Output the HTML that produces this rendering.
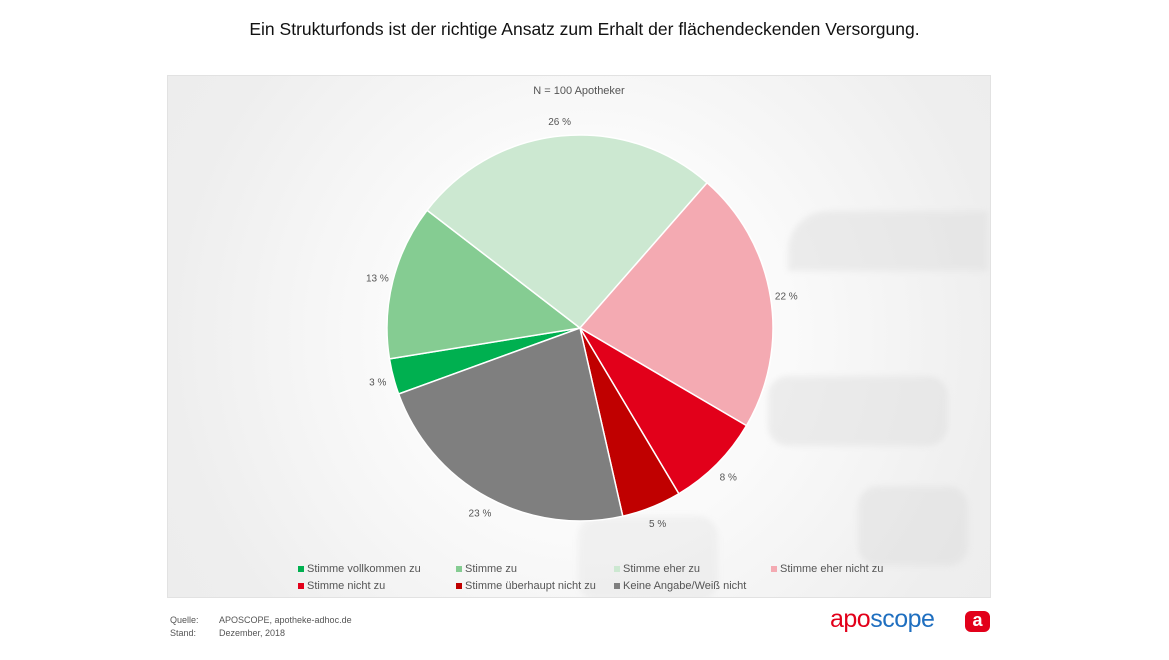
<!DOCTYPE html>
<html><head><meta charset="utf-8"><style>
body{margin:0;width:1169px;height:660px;background:#fff;font-family:"Liberation Sans",sans-serif;overflow:hidden;position:relative}
.t{position:absolute;left:0;width:1169px;top:19px;text-align:center;font-size:17.5px;color:#111}
.panel{position:absolute;left:167px;top:75px;width:824px;height:523px;border:1px solid #e2e2e2;box-sizing:border-box;background:radial-gradient(circle at 420px 260px,#fff 0,#fafafa 200px,#eeeeee 420px,#ebebeb 600px);overflow:hidden}
.deco{position:absolute;background:#dcdcdc;opacity:.45;border-radius:20px;filter:blur(3px)}
.lg{position:absolute;font-size:11px;color:#555}
.lg i{display:inline-block;width:6px;height:6px;margin-right:3px}
.f{position:absolute;font-size:9px;color:#555}
</style></head><body>
<div class="t">Ein Strukturfonds ist der richtige Ansatz zum Erhalt der flächendeckenden Versorgung.</div>
<div class="panel">
<div class="deco" style="left:620px;top:135px;width:200px;height:60px;border-radius:40px 0 0 0"></div>
<div class="deco" style="left:600px;top:300px;width:180px;height:70px"></div>
<div class="deco" style="left:690px;top:410px;width:110px;height:80px"></div>
<div class="deco" style="left:410px;top:440px;width:140px;height:85px;opacity:.3"></div>
</div>
<svg id="pie" width="1169" height="660" style="position:absolute;left:0;top:0">
<text x="579" y="94" text-anchor="middle" font-size="11" fill="#555" font-family="Liberation Sans,sans-serif">N = 100 Apotheker</text>
</svg>
<div class="lg" style="left:298px;top:563px"><i style="background:#00b050"></i>Stimme vollkommen zu</div>
<div class="lg" style="left:456px;top:563px"><i style="background:#85cc92"></i>Stimme zu</div>
<div class="lg" style="left:614px;top:563px"><i style="background:#cce8d1"></i>Stimme eher zu</div>
<div class="lg" style="left:771px;top:563px"><i style="background:#f4aab2"></i>Stimme eher nicht zu</div>
<div class="lg" style="left:298px;top:580px"><i style="background:#e2001a"></i>Stimme nicht zu</div>
<div class="lg" style="left:456px;top:580px"><i style="background:#c00000"></i>Stimme überhaupt nicht zu</div>
<div class="lg" style="left:614px;top:580px"><i style="background:#7f7f7f"></i>Keine Angabe/Weiß nicht</div>
<div class="f" style="left:170px;top:615px">Quelle:</div>
<div class="f" style="left:219px;top:615px">APOSCOPE, apotheke-adhoc.de</div>
<div class="f" style="left:170px;top:628px">Stand:</div>
<div class="f" style="left:219px;top:628px">Dezember, 2018</div>
<div style="position:absolute;left:830px;top:605px;font-size:25px;letter-spacing:-0.5px"><span style="color:#e2001a">apo</span><span style="color:#1f6fc0">scope</span></div>
<div style="position:absolute;left:965px;top:611px;width:25px;height:21px;background:#e2001a;border-radius:6px;color:#fff;font-weight:bold;font-size:18px;text-align:center;line-height:19px">a</div>
<script>
const categories=["Stimme vollkommen zu","Stimme zu","Stimme eher zu","Stimme eher nicht zu","Stimme nicht zu","Stimme überhaupt nicht zu","Keine Angabe/Weiß nicht"];
const values=[3,13,26,22,8,5,23];
const labels=["3 %","13 %","26 %","22 %","8 %","5 %","23 %"];
const colors=["#00b050","#85cc92","#cce8d1","#f4aab2","#e2001a","#c00000","#7f7f7f"];
const svg=document.getElementById('pie');
const NS="http://www.w3.org/2000/svg";
const cx=580,cy=328,r=193,lr=209,start=-110;
const total=values.reduce((a,b)=>a+b,0);
function pt(deg,rad){const a=deg*Math.PI/180;return [cx+rad*Math.sin(a),cy-rad*Math.cos(a)];}
let ang=start;
values.forEach((v,i)=>{
  const sweep=v/total*360,a2=ang+sweep;
  const p1=pt(ang,r),p2=pt(a2,r);
  const p=document.createElementNS(NS,'path');
  p.setAttribute('d',`M${cx},${cy}L${p1[0]},${p1[1]}A${r},${r} 0 ${sweep>180?1:0} 1 ${p2[0]},${p2[1]}Z`);
  p.setAttribute('fill',colors[i]);p.setAttribute('stroke','#fff');p.setAttribute('stroke-width','1.5');
  
  
  svg.appendChild(p);
  const lp=pt(ang+sweep/2,lr);
  const t=document.createElementNS(NS,'text');
  t.setAttribute('x',lp[0]);t.setAttribute('y',lp[1]+5);t.setAttribute('text-anchor','middle');
  t.setAttribute('font-size','10');t.setAttribute('fill','#555');t.setAttribute('font-family','Liberation Sans,sans-serif');
  t.textContent=labels[i];
  
  
  svg.appendChild(t);
  ang=a2;
});
</script>
</body></html>
